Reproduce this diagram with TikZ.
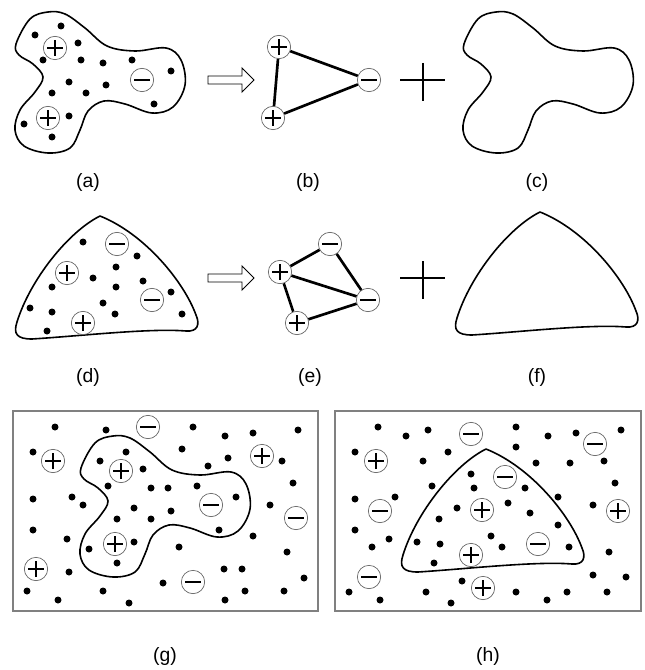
\documentclass[tikz,border=0pt]{standalone}
\usepackage{fontspec}
\setmainfont{Liberation Sans}
\usetikzlibrary{calc}
\tikzset{
  charge/.style={circle,draw=gray!75!black,line width=0.5pt,fill=white,
    minimum size=17.5pt,inner sep=0pt},
  qplus/.style={charge,path picture={
    \draw[black,line width=2.1pt]
      ([xshift=-6pt]path picture bounding box.center) -- ([xshift=6pt]path picture bounding box.center)
      ([yshift=-6pt]path picture bounding box.center) -- ([yshift=6pt]path picture bounding box.center);}},
  qminus/.style={charge,path picture={
    \draw[black,line width=2.1pt]
      ([xshift=-6pt]path picture bounding box.center) -- ([xshift=6pt]path picture bounding box.center);}},
  outline/.style={line width=1.2pt,line join=round},
  bond/.style={line width=2pt},
  frame/.style={draw=gray,line width=0.8pt},
  lab/.style={font=\fontsize{14.5}{17}\selectfont},
  % the two region shapes, in the frame of panels (a) and (d)
  blob/.style={insert path={plot[smooth cycle,tension=0.6] coordinates {
    (16,44) (30,19) (48,12) (65,14) (85,28) (107,46) (135,51) (166,48) (181,60)
    (185,85) (173,107) (152,113) (125,104) (104,101) (88,111) (80,130) (70,148)
    (48,153) (24,146) (15,130) (20,110) (35,92) (43,77) (33,64) (19,55)}}},
  tri/.style={insert path={(100,216) .. controls (68,232) and (30,280) .. (17,322)
    .. controls (13,334) and (17,339) .. (32,339)
    .. controls (80,336) and (150,328) .. (186,331)
    .. controls (198,332) and (200,324) .. (196,315)
    .. controls (184,282) and (145,234) .. (100,216) -- cycle}},
}

\begin{document}
\begin{tikzpicture}[x=0.75pt,y=-0.75pt]
\useasboundingbox (0,0) rectangle (645,670);
% ---------- (a) ----------
\draw[outline] [blob];
\foreach \p in {(35,35),(61,26),(78,43),(43,60),(81,60),(103,63),(132,60),(171,71),
  (69,82),(106,85),(52,93),(86,93),(154,104),(69,116),(24,124),(52,137)}
  {\fill \p circle (3.5);}
\node[qplus] (a1) at (55,48) {};
\node[qminus] (a2) at (142,80) {};
\node[qplus] (a3) at (48,118) {};
\node[lab] (la) at (88,182) {(a)};
% ---------- (b) ----------
\node[qplus] (b1) at (279,47) {};
\node[qminus] (b2) at (369,80) {};
\node[qplus] (b3) at (273,118) {};
\draw[bond] (b1) -- (b2) (b3) -- (b2) (b1) -- (b3);
\node[lab] (lb) at (308,182) {(b)};
% ---------- (c) ----------
\begin{scope}[shift={(448,0)}]
\draw[outline] [blob];
\end{scope}
\node[lab] (lc) at (537,182) {(c)};
% ---------- (d) ----------
\draw[outline] [tri];
\foreach \p in {(83,242),(137,256),(116,267),(93,278),(143,281),(52,287),(116,287),
  (171,292),(103,303),(30,308),(52,312),(115,314),(182,314),(47,331)}
  {\fill \p circle (3.5);}
\node[qminus] (d1) at (117,244) {};
\node[qplus] (d2) at (67,273) {};
\node[qminus] (d3) at (152,300) {};
\node[qplus] (d4) at (83,323) {};
\node[lab] (ld) at (88,377) {(d)};
% ---------- (e) ----------
\node[qplus] (e1) at (280,272) {};
\node[qminus] (e2) at (330,244) {};
\node[qminus] (e3) at (368,300) {};
\node[qplus] (e4) at (297,323) {};
\draw[bond] (e1) -- (e2) (e2) -- (e3) (e1) -- (e3) (e1) -- (e4) (e4) -- (e3);
\node[lab] (le) at (310,377) {(e)};
% ---------- (f) ----------
\begin{scope}[shift={(440,-4)}]
\draw[outline] [tri];
\end{scope}
\node[lab] (lf) at (537,377) {(f)};
% ---------- arrows and plus signs ----------
\foreach \y in {80,278}
  {\draw[line width=0.7pt] (208,\y-4) -- (242,\y-4) -- (242,\y-12) -- (254,\y)
     -- (242,\y+12) -- (242,\y+4) -- (208,\y+4) -- cycle;
   \draw[line width=1.8pt] (400,\y) -- (445,\y) (423,\y-17) -- (423,\y+21);}
% ---------- (g) ----------
\draw[frame] (13,411) rectangle (318,611);
\begin{scope}[shift={(65,424)}]
\draw[outline] [blob];
\end{scope}
\foreach \p in {(55,427),(106,430),(193,427),(225,436),(253,433),(298,430),
  (33,452),(126,452),(182,449),(100,461),(143,469),(228,458),(208,466),(282,461),
  (108,486),(151,488),(168,488),(197,486),(293,483),
  (33,499),(72,497),(83,505),(134,508),(171,511),(236,497),(270,505),(117,519),(151,519),
  (33,530),(67,539),(219,530),(253,536),(134,542),(89,549),(179,547),(287,552),
  (117,563),(69,572),(224,569),(242,569),(304,578),(163,583),
  (27,591),(103,591),(245,591),(284,591),(58,600),(129,603),(225,600)}
  {\fill \p circle (3.5);}
\foreach \s/\x/\y [count=\i] in {qminus/148/427,qplus/53/461,qplus/121/471,
  qplus/262/456,qminus/211/505,qminus/296/518,qplus/115/544,qplus/36/569,
  qminus/193/582}
  {\node[\s] (g\i) at (\x,\y) {};}
\node[lab] (lg) at (165,656) {(g)};
% ---------- (h) ----------
\draw[frame] (335,411) rectangle (641,611);
\begin{scope}[shift={(386,233)}]
\draw[outline] [tri];
\end{scope}
\foreach \p in {(378,427),(406,436),(428,430),(516,427),(548,436),(576,433),(621,430),
  (355,452),(448,452),(516,447),(423,461),(536,463),(570,463),(604,461),
  (471,474),(432,486),(474,488),(525,488),(615,483),
  (355,499),(395,497),(457,508),(508,503),(558,497),(593,505),(439,519),(530,513),(558,525),
  (355,530),(389,539),(491,536),(417,542),(440,544),(502,547),(372,547),(569,547),(609,552),
  (434,563),(593,575),(626,577),(462,581),
  (349,592),(426,592),(516,592),(567,592),(607,592),(380,600),(451,603),(547,600)}
  {\fill \p circle (3.5);}
\foreach \s/\x/\y [count=\i] in {qminus/471/434,qminus/595/444,qplus/376/461,
  qminus/380/511,qplus/482/510,qminus/505/477,qplus/618/511,qplus/471/555,
  qminus/538/544,qminus/369/577,qplus/483/588}
  {\node[\s] (h\i) at (\x,\y) {};}
\node[lab] (lh) at (488,656) {(h)};
\end{tikzpicture}
\end{document}
